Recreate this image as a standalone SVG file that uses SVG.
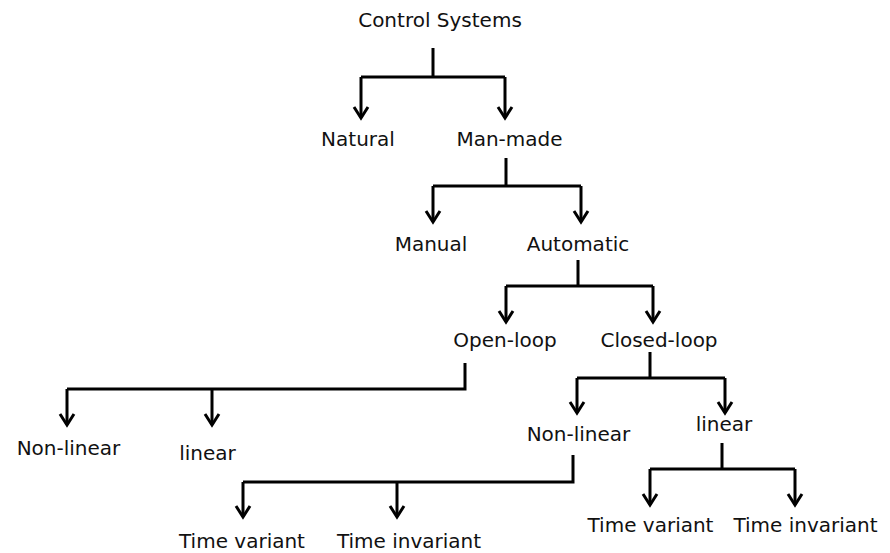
<svg xmlns="http://www.w3.org/2000/svg" width="890" height="553" viewBox="0 0 890 553">
<style>
text{font-family:"DejaVu Sans",Verdana,sans-serif;font-size:20px;fill:#111;text-anchor:middle}
.l{fill:none;stroke:#000;stroke-width:3}
.a{fill:none;stroke:#000;stroke-width:3;marker-end:url(#chev)}
</style>
<defs>
<marker id="chev" markerUnits="userSpaceOnUse" viewBox="-14 -10 16 20" markerWidth="16" markerHeight="20" refX="0" refY="0" orient="auto" overflow="visible">
<path d="M-11,-7 L0,0 L-11,7" fill="none" stroke="#000" stroke-width="3"/>
</marker>
</defs>
<rect width="890" height="553" fill="#fff"/>
<g id="connectors">
<path class="l" d="M433,48 V77 M361,77 H505"/>
<path class="a" d="M361,77 V118"/>
<path class="a" d="M505,77 V118"/>
<path class="l" d="M506,158 V186 M433,186 H581"/>
<path class="a" d="M433,186 V222"/>
<path class="a" d="M581,186 V222"/>
<path class="l" d="M578,260 V286 M506,286 H653"/>
<path class="a" d="M506,286 V322"/>
<path class="a" d="M653,286 V322"/>
<path class="l" d="M465,363 V389 H67"/>
<path class="a" d="M67,389 V425"/>
<path class="a" d="M212,389 V425"/>
<path class="l" d="M650,352 V378 M577,378 H725"/>
<path class="a" d="M577,378 V413"/>
<path class="a" d="M725,378 V413"/>
<path class="l" d="M573,455 V482 H243"/>
<path class="a" d="M243,482 V517"/>
<path class="a" d="M397,482 V517"/>
<path class="l" d="M722,443 V469 M650,469 H795"/>
<path class="a" d="M650,469 V505"/>
<path class="a" d="M795,469 V505"/>
</g>
<g id="n-control"><text x="440" y="27">Control Systems</text></g>
<g id="n-natural"><text x="358" y="146">Natural</text></g>
<g id="n-manmade"><text x="509.5" y="146">Man-made</text></g>
<g id="n-manual"><text x="431" y="251">Manual</text></g>
<g id="n-automatic"><text x="578" y="251">Automatic</text></g>
<g id="n-openloop"><text x="505" y="347">Open-loop</text></g>
<g id="n-closedloop"><text x="659" y="347">Closed-loop</text></g>
<g id="n-ol-nonlinear"><text x="68.5" y="455">Non-linear</text></g>
<g id="n-ol-linear"><text x="207.5" y="460">linear</text></g>
<g id="n-cl-nonlinear"><text x="578.5" y="441">Non-linear</text></g>
<g id="n-cl-linear"><text x="724" y="431">linear</text></g>
<g id="n-nl-timevariant"><text x="242" y="548">Time variant</text></g>
<g id="n-nl-timeinvariant"><text x="409" y="548">Time invariant</text></g>
<g id="n-l-timevariant"><text x="650.5" y="532">Time variant</text></g>
<g id="n-l-timeinvariant"><text x="805.5" y="532">Time invariant</text></g>
</svg>
